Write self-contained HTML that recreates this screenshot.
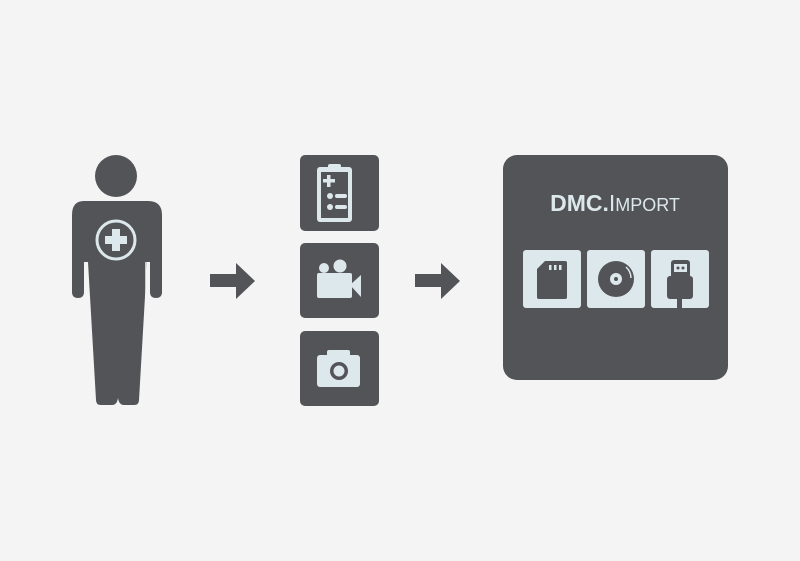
<!DOCTYPE html>
<html><head><style>html,body{margin:0;padding:0;background:#f4f4f4}svg{display:block}</style></head>
<body>
<svg width="800" height="561" viewBox="0 0 800 561" xmlns="http://www.w3.org/2000/svg">
<rect width="800" height="561" fill="#f4f4f4"/>
<g fill="#535458">
<!-- person -->
<circle cx="116" cy="176" r="21"/>
<path d="M84 201 H148 Q162 201 162 215 V292 Q162 298 156 298 Q150 298 150 292 V262 H147 L139 400 Q139 405 134 405 H124 Q119 405 118 398 Q117 405 112 405 H101 Q96 405 96 400 L88 262 H84 V292 Q84 298 78 298 Q72 298 72 292 V215 Q72 201 84 201 Z"/>
<path d="M86 262 V300 M146 262 V300" stroke="#f4f4f4" stroke-width="1.5"/>
<!-- arrows -->
<path d="M210 274 H236 V263 L255 281 L236 299 V287 H210 Z"/>
<path d="M415 274 H441 V263 L460 281 L441 299 V287 H415 Z"/>
<!-- tiles -->
<rect x="300" y="155" width="79" height="76" rx="5"/>
<rect x="300" y="243" width="79" height="75" rx="5"/>
<rect x="300" y="331" width="79" height="75" rx="5"/>
<rect x="503" y="155" width="225" height="225" rx="14"/>
</g>
<!-- chest cross -->
<circle cx="116" cy="240" r="19" fill="none" stroke="#dde8ec" stroke-width="3"/>
<path d="M112 229 H120 V236 H127 V244 H120 V251 H112 V244 H105 V236 H112 Z" fill="#dde8ec"/>
<g fill="#dde8ec">
<!-- clipboard -->
<rect x="317" y="167" width="35" height="55" rx="3"/>
<rect x="328" y="164" width="13" height="6" rx="2"/>
<rect x="321" y="172" width="27" height="46" fill="#535458"/>
<rect x="327" y="175" width="3.5" height="12"/>
<rect x="323" y="179" width="12" height="3.5"/>
<circle cx="330" cy="196" r="3"/><circle cx="330" cy="207" r="3"/>
<rect x="335" y="194" width="12" height="4" rx="2"/><rect x="335" y="205" width="12" height="4" rx="2"/>
<!-- camcorder -->
<circle cx="324" cy="268" r="5"/><circle cx="340" cy="266" r="6.5"/>
<rect x="317" y="273" width="35" height="25" rx="2"/>
<path d="M350 285 L361 275 V297 Z"/>
<!-- camera -->
<rect x="317" y="355" width="43" height="32" rx="3"/>
<rect x="327" y="350" width="23" height="8" rx="2"/>
<circle cx="339" cy="371" r="9" fill="#535458"/>
<circle cx="339" cy="371" r="5.5"/>
<!-- inner tiles -->
<rect x="523" y="250" width="58" height="58" rx="3"/>
<rect x="587" y="250" width="58" height="58" rx="3"/>
<rect x="651" y="250" width="58" height="58" rx="3"/>
</g>
<text x="615" y="211" text-anchor="middle" font-family="Liberation Sans, sans-serif" fill="#dde8ec"><tspan font-size="23" font-weight="bold">DMC.</tspan><tspan font-size="23">I</tspan><tspan font-size="18">MPORT</tspan></text>
<g fill="#535458">
<!-- sd card -->
<path d="M545 261 H565 Q567 261 567 263 V297 Q567 299 565 299 H539 Q537 299 537 297 V269 Z"/>
<rect x="549" y="265" width="2.5" height="5" fill="#dde8ec"/><rect x="554" y="265" width="2.5" height="5" fill="#dde8ec"/><rect x="559" y="265" width="2.5" height="5" fill="#dde8ec"/>
<!-- disc -->
<circle cx="616" cy="279" r="18"/>
<circle cx="616" cy="279" r="6" fill="#dde8ec"/>
<circle cx="616" cy="279" r="2"/>
<path d="M626 267 A15 15 0 0 1 631 278" stroke="#dde8ec" stroke-width="1.5" fill="none"/>
<!-- usb -->
<rect x="671" y="260" width="19" height="19" rx="3"/>
<rect x="674" y="264" width="13" height="8" fill="#dde8ec"/>
<circle cx="678" cy="268" r="1.5"/><circle cx="683" cy="268" r="1.5"/>
<rect x="667" y="276" width="26" height="23" rx="3"/>
<rect x="677" y="298" width="5" height="10"/>
</g>
</svg>
</body></html>
